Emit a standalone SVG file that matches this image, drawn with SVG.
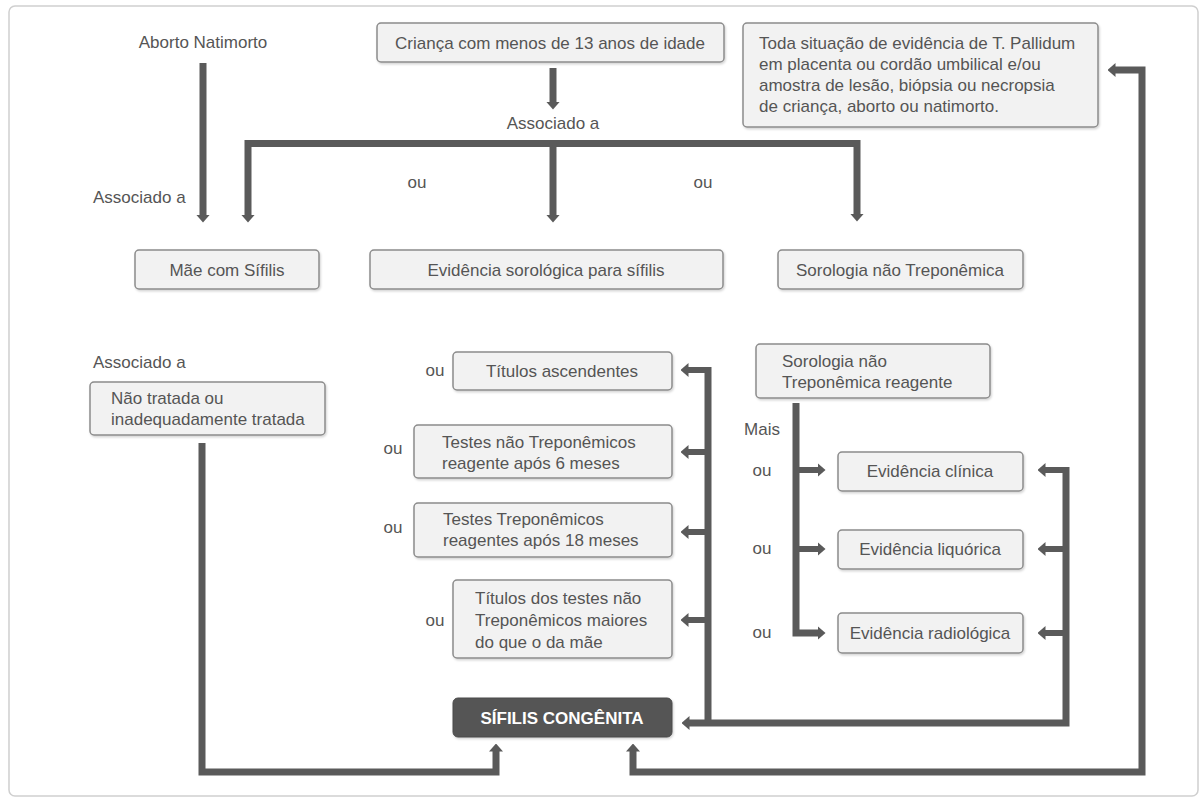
<svg xmlns="http://www.w3.org/2000/svg" width="1200" height="801" viewBox="0 0 1200 801">
<defs>
<style>
.frame{fill:#ffffff;stroke:#cfcfcf;stroke-width:1.5}
.box{fill:#f2f2f2;stroke:#8c8c8c;stroke-width:1.5;filter:url(#sh)}
.dark{fill:#555555;stroke:#4a4a4a;stroke-width:1;filter:url(#sh)}
text{font-family:"Liberation Sans",Arial,sans-serif;font-size:17px;fill:#555555}
.c{text-anchor:middle}
.w{fill:#ffffff;font-weight:bold}
.ln{fill:none;stroke:#5a5a5a;stroke-width:7;stroke-linejoin:miter}
.st{fill:none;stroke:#5a5a5a;stroke-width:6}
</style>
<filter id="sh" x="-5%" y="-10%" width="110%" height="130%">
<feDropShadow dx="1" dy="1.5" stdDeviation="1" flood-color="#000" flood-opacity="0.18"/>
</filter>
<marker id="ah" viewBox="0 0 8 14" refX="0.5" refY="7" markerWidth="8" markerHeight="14" markerUnits="userSpaceOnUse" orient="auto-start-reverse">
<path d="M0,0 L8,7 L0,14 z" fill="#5a5a5a"/>
</marker>
</defs>
<rect class="frame" x="9" y="6" width="1189" height="790" rx="6"/>

<g id="connectors">
<path class="ln" d="M203,63 V215" marker-end="url(#ah)"/>
<path class="ln" d="M553,68 V102" marker-end="url(#ah)"/>
<path class="ln" d="M248,215 V143.5 H857 V214" marker-start="url(#ah)" marker-end="url(#ah)"/>
<path class="ln" d="M553,143.5 V215" marker-end="url(#ah)"/>
<path class="ln" d="M202,443 V772 H496 V751" marker-end="url(#ah)"/>
<path class="ln" d="M633,751 V772 H1142 V70 H1115" marker-start="url(#ah)" marker-end="url(#ah)"/>
<path class="ln" d="M708,367 V723"/>
<path class="ln" d="M1066,467 V723 H689" marker-end="url(#ah)"/>
<path class="st" d="M711,370 H688" marker-end="url(#ah)"/>
<path class="st" d="M708,452 H688" marker-end="url(#ah)"/>
<path class="st" d="M708,532 H688" marker-end="url(#ah)"/>
<path class="st" d="M708,620 H688" marker-end="url(#ah)"/>
<path class="ln" d="M796,403 V633 H818" marker-end="url(#ah)"/>
<path class="st" d="M796,470 H818" marker-end="url(#ah)"/>
<path class="st" d="M796,549 H818" marker-end="url(#ah)"/>
<path class="st" d="M1069,470 H1045" marker-end="url(#ah)"/>
<path class="st" d="M1066,549 H1045" marker-end="url(#ah)"/>
<path class="st" d="M1066,633 H1045" marker-end="url(#ah)"/>
</g>

<g id="labels">
<text class="c" x="203" y="48">Aborto Natimorto</text>
<text x="93" y="203">Associado a</text>
<text class="c" x="553" y="129">Associado a</text>
<text class="c" x="417" y="188">ou</text>
<text class="c" x="703" y="188">ou</text>
<text x="93" y="368">Associado a</text>
<text class="c" x="435" y="376">ou</text>
<text class="c" x="393" y="454">ou</text>
<text class="c" x="393" y="533">ou</text>
<text class="c" x="435" y="626">ou</text>
<text class="c" x="762" y="435">Mais</text>
<text class="c" x="762" y="476">ou</text>
<text class="c" x="762" y="554">ou</text>
<text class="c" x="762" y="638">ou</text>
</g>

<g id="n-crianca">
<rect class="box" x="377" y="23" width="347" height="39" rx="4"/>
<text class="c" x="550" y="49">Criança com menos de 13 anos de idade</text>
</g>

<g id="n-toda">
<rect class="box" x="743" y="23" width="355" height="104" rx="4"/>
<text x="759" y="49">Toda situação de evidência de T. Pallidum</text>
<text x="759" y="70">em placenta ou cordão umbilical e/ou</text>
<text x="759" y="91">amostra de lesão, biópsia ou necropsia</text>
<text x="759" y="112">de criança, aborto ou natimorto.</text>
</g>

<g id="n-mae">
<rect class="box" x="135" y="250" width="184" height="39" rx="4"/>
<text class="c" x="227" y="276">Mãe com Sífilis</text>
</g>

<g id="n-evid-soro">
<rect class="box" x="370" y="250" width="353" height="39" rx="4"/>
<text class="c" x="546" y="276">Evidência sorológica para sífilis</text>
</g>

<g id="n-soro-nao">
<rect class="box" x="778" y="250" width="245" height="39" rx="4"/>
<text class="c" x="900" y="276">Sorologia não Treponêmica</text>
</g>

<g id="n-nao-tratada">
<rect class="box" x="90" y="382" width="235" height="53" rx="4"/>
<text x="111" y="404">Não tratada ou</text>
<text x="111" y="425">inadequadamente tratada</text>
</g>

<g id="n-titulos-asc">
<rect class="box" x="453" y="352" width="219" height="38" rx="4"/>
<text class="c" x="562" y="377">Títulos ascendentes</text>
</g>

<g id="n-testes-nao">
<rect class="box" x="414" y="425" width="258" height="53" rx="4"/>
<text x="442" y="448">Testes não Treponêmicos</text>
<text x="442" y="469">reagente após 6 meses</text>
</g>

<g id="n-testes-trep">
<rect class="box" x="414" y="503" width="258" height="54" rx="4"/>
<text x="443" y="525">Testes Treponêmicos</text>
<text x="443" y="546">reagentes após 18 meses</text>
</g>

<g id="n-titulos-dos">
<rect class="box" x="453" y="580" width="219" height="78" rx="4"/>
<text x="475" y="604">Títulos dos testes não</text>
<text x="475" y="626">Treponêmicos maiores</text>
<text x="475" y="648">do que o da mãe</text>
</g>

<g id="n-soro-reag">
<rect class="box" x="756" y="344" width="234" height="54" rx="4"/>
<text x="782" y="367">Sorologia não</text>
<text x="782" y="388">Treponêmica reagente</text>
</g>

<g id="n-clinica">
<rect class="box" x="838" y="452" width="185" height="39" rx="4"/>
<text class="c" x="930" y="477">Evidência clínica</text>
</g>

<g id="n-liquorica">
<rect class="box" x="838" y="530" width="185" height="39" rx="4"/>
<text class="c" x="930" y="555">Evidência liquórica</text>
</g>

<g id="n-radiologica">
<rect class="box" x="838" y="613" width="185" height="40" rx="4"/>
<text class="c" x="930" y="639">Evidência radiológica</text>
</g>

<g id="n-sifilis">
<rect class="dark" x="453" y="698" width="219" height="39" rx="5"/>
<text class="c w" x="562" y="724">SÍFILIS CONGÊNITA</text>
</g>
</svg>
